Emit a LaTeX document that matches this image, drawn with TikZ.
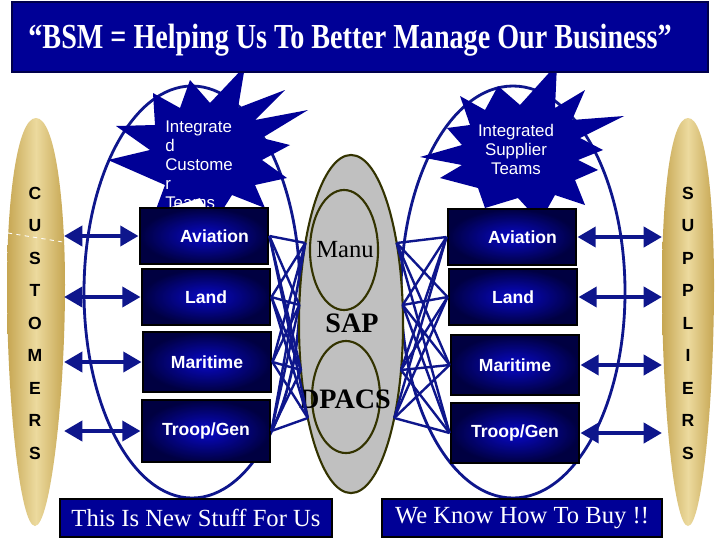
\documentclass[tikz,border=0pt]{standalone}
\usepackage{fontspec}
\setmainfont{Liberation Serif}
\setsansfont{Liberation Sans}
\usepackage{xcolor}
\usepackage{tikz}
\usetikzlibrary{shapes,arrows.meta}
\definecolor{bsmnavy}{RGB}{0,0,150}
\definecolor{wirenavy}{RGB}{14,22,140}
\definecolor{boxdeep}{RGB}{0,0,65}
\definecolor{boxglow}{RGB}{8,8,200}
\definecolor{podedge}{RGB}{198,166,82}
\definecolor{podmid}{RGB}{236,218,158}
\definecolor{sapgray}{RGB}{192,192,192}
\definecolor{sapedge}{RGB}{51,51,0}
\tikzset{unitbox/.style={rectangle,draw=black,line width=2pt,inner color=boxglow,outer color=boxdeep,text=white,font=\sffamily\bfseries\fontsize{12.5}{14}\selectfont,minimum width=3.2cm,minimum height=1.4cm,inner sep=0pt}}
\tikzset{tagbox/.style={rectangle,fill=bsmnavy,draw=black,line width=1.5pt,text=white,font=\fontsize{17.5}{20}\selectfont,minimum height=0.95cm,inner sep=0pt}}
\tikzset{podletter/.style={font=\sffamily\bfseries\fontsize{12.5}{14}\selectfont,inner sep=0pt}}
\tikzset{bursttext/.style={text=white,font=\sffamily\fontsize{12}{13.5}\selectfont,inner sep=0pt}}
\tikzset{zone/.style={ellipse,draw=sapedge,line width=1.5pt,inner sep=0pt}}
\tikzset{team/.style={draw=wirenavy,line width=2pt}}
\tikzset{web/.style={draw=wirenavy,line width=1.7pt}}
\tikzset{twoway/.style={<->,draw=wirenavy,line width=3.5pt}}
\tikzset{pod/.style={left color=podedge,right color=podedge,middle color=podmid}}

\begin{document}
\begin{tikzpicture}[>={Triangle[length=13pt,width=14pt]},x=0.025cm,y=-0.025cm]
    \useasboundingbox[fill=white] (0,0) rectangle (720,540);

    \shade[pod] (36,118) .. controls (55,118) and (65,200) .. (65,285) .. controls (65,400) and (50,526) .. (35,526) .. controls (20,526) and (7,400) .. (7,285) .. controls (7,200) and (17,118) .. (36,118);
    \shade[pod] (688,118) .. controls (706,118) and (714,200) .. (714,285) .. controls (714,400) and (702,526) .. (688,526) .. controls (674,526) and (662,400) .. (662,285) .. controls (662,200) and (670,118) .. (688,118);
    \draw [white,dashed,line width=0.6pt] (8,233) -- (63,242);
    \foreach \ch [count=\i] in {C,U,S,T,O,M,E,R,S}
        \node[podletter] (cust\i) at (35,{160.5+32.5*\i}) {\ch};
    \foreach \ch [count=\i] in {S,U,P,P,L,I,E,R,S}
        \node[podletter] (supp\i) at (688,{160.5+32.5*\i}) {\ch};
    \coordinate (custrim) at (64,0);
    \coordinate (supprim) at (662,0);

    \draw [team] (192,292) ellipse [x radius=108,y radius=206];
    \draw [team] (513,292) ellipse [x radius=112,y radius=206];

    \node[zone,fill=sapgray,minimum width=2.6cm,minimum height=8.45cm] (sapzone) at (351,324) {};
    \node[zone,minimum width=1.7cm,minimum height=3cm] (manuzone) at (344,250) {};
    \node[zone,minimum width=1.7cm,minimum height=2.8cm] (dpacszone) at (346,397) {};
    \node[font=\fontsize{17.5}{20}\selectfont] (manutext) at (345,250) {Manu};
    \node[font=\bfseries\fontsize{20}{22}\selectfont] (saptext) at (352,323) {SAP};
    \node[font=\bfseries\fontsize{20}{22}\selectfont] (dpacstext) at (345,399) {DPACS};
    \foreach \i/\yy in {1/243,2/305,3/370,4/418} {
        \coordinate (sapL\i) at ({351-52*sqrt(1-((\yy-324)/169)^2)},\yy);
        \coordinate (sapR\i) at ({351+52*sqrt(1-((\yy-324)/169)^2)},\yy);
    }

    \fill [bsmnavy] (153,93) -- (180,108) -- (190,80) -- (210,103) -- (245,66) -- (238,108) -- (285,90) -- (255,120) -- (308,110) -- (262,138) -- (290,145) -- (262,160) -- (287,178) -- (255,185) -- (265,208) -- (232,195) -- (215,222) -- (200,198) -- (155,212) -- (165,185) -- (108,160) -- (150,150) -- (116,126) -- (155,125) -- cycle;
    \fill [bsmnavy] (460,96) -- (485,110) -- (498,86) -- (520,105) -- (557,64) -- (555,108) -- (585,90) -- (572,120) -- (624,116) -- (580,138) -- (603,150) -- (578,160) -- (598,170) -- (575,180) -- (585,205) -- (555,195) -- (540,222) -- (518,198) -- (485,208) -- (478,188) -- (440,178) -- (462,165) -- (420,157) -- (462,145) -- (447,128) -- (470,125) -- cycle;
    \node[bursttext,align=left,anchor=north west] (custteams) at (165,121) {Integrate\\d\\Custome\\r\\Teams};
    \node[bursttext,align=center] (suppteams) at (516,149) {Integrated\\Supplier\\Teams};

    \node[unitbox] (aviL) at (204,236) {\hspace*{15pt}Aviation};
    \node[unitbox] (landL) at (206,297) {Land};
    \node[unitbox,minimum height=1.5cm] (mariL) at (207,362) {Maritime};
    \node[unitbox,minimum height=1.55cm] (troopL) at (206,431) {Troop/Gen};
    \node[unitbox] (aviR) at (512,237) {\hspace*{15pt}Aviation};
    \node[unitbox] (landR) at (513,297) {Land};
    \node[unitbox,minimum height=1.5cm] (mariR) at (515,365) {Maritime};
    \node[unitbox,minimum height=1.5cm] (troopR) at (515,433) {Troop/Gen};

    \foreach \b in {aviL,landL,mariL,troopL}
        \foreach \g in {1,...,4}
            \draw [web] (\b.east) to [] (sapL\g);
    \foreach \b in {aviR,landR,mariR,troopR}
        \foreach \g in {1,...,4}
            \draw [web] (\b.west) to [] (sapR\g);

    \foreach \b in {aviL,landL,mariL,troopL}
        \draw [twoway] (custrim |- \b) to [] (\b);
    \foreach \b in {aviR,landR,mariR,troopR}
        \draw [twoway] (\b) to [] (supprim |- \b);

    \node[rectangle,fill=bsmnavy,draw=black!50!bsmnavy,line width=1pt,minimum width=17.4cm,minimum height=1.75cm] (titlebar) at (360,37) {};
    \node[text=white,font=\bfseries\fontsize{25}{28}\selectfont] (titletext) at (350,40) {\scalebox{0.8}[1]{“BSM = Helping Us To Better Manage Our Business”}};

    \node[tagbox,minimum width=6.8cm] (newstuff) at (196,518) {This Is New Stuff For Us};
    \node[tagbox,minimum width=7cm] (howtobuy) at (522,518) {We Know How To Buy !!};
\end{tikzpicture}
\end{document}
